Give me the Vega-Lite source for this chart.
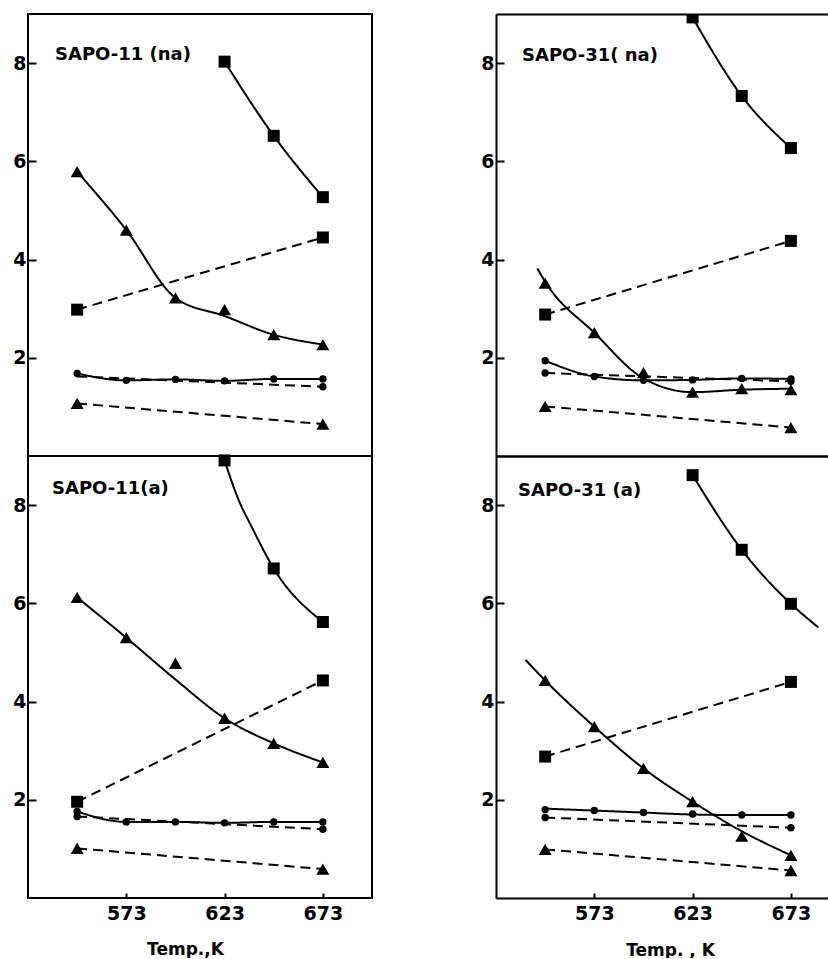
{
  "$schema": "https://vega.github.io/schema/vega-lite/v6.json",
  "padding": {"left": 11, "top": 13, "right": 0, "bottom": 0},
  "background": "white",
  "data": {"values": [
    {"p": "A", "s": "sqS", "mk": "sq", "ls": "solid", "T": 623, "v": 8.03, "f": 8.03},
    {"p": "A", "s": "sqS", "mk": "sq", "ls": "solid", "T": 648, "v": 6.52, "f": 6.52},
    {"p": "A", "s": "sqS", "mk": "sq", "ls": "solid", "T": 673, "v": 5.27, "f": 5.27},
    {"p": "A", "s": "sqD", "mk": "sq", "ls": "dashed", "T": 548, "v": 2.98, "f": 2.98},
    {"p": "A", "s": "sqD", "mk": "sq", "ls": "dashed", "T": 673, "v": 4.45, "f": 4.45},
    {"p": "A", "s": "trS", "mk": "tr", "ls": "solid", "T": 548, "v": 5.79, "f": 5.79},
    {"p": "A", "s": "trS", "mk": "tr", "ls": "solid", "T": 573, "v": 4.6, "f": 4.6},
    {"p": "A", "s": "trS", "mk": "tr", "ls": "solid", "T": 598, "v": 3.22, "f": 3.22},
    {"p": "A", "s": "trS", "mk": "tr", "ls": "solid", "T": 623, "v": 2.98, "f": 2.85},
    {"p": "A", "s": "trS", "mk": "tr", "ls": "solid", "T": 648, "v": 2.47, "f": 2.47},
    {"p": "A", "s": "trS", "mk": "tr", "ls": "solid", "T": 673, "v": 2.27, "f": 2.27},
    {"p": "A", "s": "ciS", "mk": "ci", "ls": "solid", "T": 548, "v": 1.68, "f": 1.68},
    {"p": "A", "s": "ciS", "mk": "ci", "ls": "solid", "T": 573, "v": 1.54, "f": 1.54},
    {"p": "A", "s": "ciS", "mk": "ci", "ls": "solid", "T": 598, "v": 1.56, "f": 1.56},
    {"p": "A", "s": "ciS", "mk": "ci", "ls": "solid", "T": 623, "v": 1.53, "f": 1.53},
    {"p": "A", "s": "ciS", "mk": "ci", "ls": "solid", "T": 648, "v": 1.57, "f": 1.57},
    {"p": "A", "s": "ciS", "mk": "ci", "ls": "solid", "T": 673, "v": 1.57, "f": 1.57},
    {"p": "A", "s": "ciD", "mk": "ci", "ls": "dashed", "T": 548, "v": null, "f": 1.62},
    {"p": "A", "s": "ciD", "mk": "ci", "ls": "dashed", "T": 673, "v": 1.41, "f": 1.41},
    {"p": "A", "s": "trD", "mk": "tr", "ls": "dashed", "T": 548, "v": 1.07, "f": 1.07},
    {"p": "A", "s": "trD", "mk": "tr", "ls": "dashed", "T": 673, "v": 0.65, "f": 0.65},

    {"p": "B", "s": "sqS", "mk": "sq", "ls": "solid", "T": 623, "v": 8.93, "f": 8.93},
    {"p": "B", "s": "sqS", "mk": "sq", "ls": "solid", "T": 648, "v": 7.33, "f": 7.33},
    {"p": "B", "s": "sqS", "mk": "sq", "ls": "solid", "T": 673, "v": 6.27, "f": 6.27},
    {"p": "B", "s": "sqD", "mk": "sq", "ls": "dashed", "T": 548, "v": 2.88, "f": 2.88},
    {"p": "B", "s": "sqD", "mk": "sq", "ls": "dashed", "T": 673, "v": 4.38, "f": 4.38},
    {"p": "B", "s": "trS", "mk": "tr", "ls": "solid", "T": 544, "v": null, "f": 3.82},
    {"p": "B", "s": "trS", "mk": "tr", "ls": "solid", "T": 548, "v": 3.52, "f": 3.55},
    {"p": "B", "s": "trS", "mk": "tr", "ls": "solid", "T": 573, "v": 2.51, "f": 2.51},
    {"p": "B", "s": "trS", "mk": "tr", "ls": "solid", "T": 598, "v": 1.7, "f": 1.58},
    {"p": "B", "s": "trS", "mk": "tr", "ls": "solid", "T": 623, "v": 1.3, "f": 1.3},
    {"p": "B", "s": "trS", "mk": "tr", "ls": "solid", "T": 648, "v": 1.37, "f": 1.35},
    {"p": "B", "s": "trS", "mk": "tr", "ls": "solid", "T": 673, "v": 1.35, "f": 1.37},
    {"p": "B", "s": "ciS", "mk": "ci", "ls": "solid", "T": 548, "v": 1.94, "f": 1.94},
    {"p": "B", "s": "ciS", "mk": "ci", "ls": "solid", "T": 573, "v": 1.62, "f": 1.62},
    {"p": "B", "s": "ciS", "mk": "ci", "ls": "solid", "T": 598, "v": 1.54, "f": 1.54},
    {"p": "B", "s": "ciS", "mk": "ci", "ls": "solid", "T": 623, "v": 1.55, "f": 1.55},
    {"p": "B", "s": "ciS", "mk": "ci", "ls": "solid", "T": 648, "v": 1.58, "f": 1.58},
    {"p": "B", "s": "ciS", "mk": "ci", "ls": "solid", "T": 673, "v": 1.57, "f": 1.57},
    {"p": "B", "s": "ciD", "mk": "ci", "ls": "dashed", "T": 548, "v": 1.69, "f": 1.69},
    {"p": "B", "s": "ciD", "mk": "ci", "ls": "dashed", "T": 673, "v": 1.52, "f": 1.52},
    {"p": "B", "s": "trD", "mk": "tr", "ls": "dashed", "T": 548, "v": 1.01, "f": 1.01},
    {"p": "B", "s": "trD", "mk": "tr", "ls": "dashed", "T": 673, "v": 0.58, "f": 0.58},

    {"p": "C", "s": "sqS", "mk": "sq", "ls": "solid", "T": 623, "v": 8.91, "f": 8.91},
    {"p": "C", "s": "sqS", "mk": "sq", "ls": "solid", "T": 630, "v": null, "f": 8.12},
    {"p": "C", "s": "sqS", "mk": "sq", "ls": "solid", "T": 637, "v": null, "f": 7.54},
    {"p": "C", "s": "sqS", "mk": "sq", "ls": "solid", "T": 648, "v": 6.71, "f": 6.71},
    {"p": "C", "s": "sqS", "mk": "sq", "ls": "solid", "T": 673, "v": 5.62, "f": 5.62},
    {"p": "C", "s": "sqD", "mk": "sq", "ls": "dashed", "T": 548, "v": 1.96, "f": 1.96},
    {"p": "C", "s": "sqD", "mk": "sq", "ls": "dashed", "T": 673, "v": 4.43, "f": 4.43},
    {"p": "C", "s": "trS", "mk": "tr", "ls": "solid", "T": 548, "v": 6.12, "f": 6.12},
    {"p": "C", "s": "trS", "mk": "tr", "ls": "solid", "T": 573, "v": 5.3, "f": 5.3},
    {"p": "C", "s": "trS", "mk": "tr", "ls": "solid", "T": 598, "v": 4.78, "f": 4.45},
    {"p": "C", "s": "trS", "mk": "tr", "ls": "solid", "T": 623, "v": 3.66, "f": 3.66},
    {"p": "C", "s": "trS", "mk": "tr", "ls": "solid", "T": 648, "v": 3.15, "f": 3.15},
    {"p": "C", "s": "trS", "mk": "tr", "ls": "solid", "T": 673, "v": 2.76, "f": 2.76},
    {"p": "C", "s": "ciS", "mk": "ci", "ls": "solid", "T": 548, "v": 1.76, "f": 1.76},
    {"p": "C", "s": "ciS", "mk": "ci", "ls": "solid", "T": 573, "v": 1.55, "f": 1.55},
    {"p": "C", "s": "ciS", "mk": "ci", "ls": "solid", "T": 598, "v": 1.55, "f": 1.55},
    {"p": "C", "s": "ciS", "mk": "ci", "ls": "solid", "T": 623, "v": 1.53, "f": 1.53},
    {"p": "C", "s": "ciS", "mk": "ci", "ls": "solid", "T": 648, "v": 1.55, "f": 1.55},
    {"p": "C", "s": "ciS", "mk": "ci", "ls": "solid", "T": 673, "v": 1.55, "f": 1.55},
    {"p": "C", "s": "ciD", "mk": "ci", "ls": "dashed", "T": 548, "v": 1.66, "f": 1.66},
    {"p": "C", "s": "ciD", "mk": "ci", "ls": "dashed", "T": 673, "v": 1.4, "f": 1.4},
    {"p": "C", "s": "trD", "mk": "tr", "ls": "dashed", "T": 548, "v": 1.01, "f": 1.01},
    {"p": "C", "s": "trD", "mk": "tr", "ls": "dashed", "T": 673, "v": 0.59, "f": 0.59},

    {"p": "D", "s": "sqS", "mk": "sq", "ls": "solid", "T": 623, "v": 8.61, "f": 8.61},
    {"p": "D", "s": "sqS", "mk": "sq", "ls": "solid", "T": 648, "v": 7.09, "f": 7.09},
    {"p": "D", "s": "sqS", "mk": "sq", "ls": "solid", "T": 673, "v": 5.99, "f": 5.99},
    {"p": "D", "s": "sqS", "mk": "sq", "ls": "solid", "T": 687, "v": null, "f": 5.51},
    {"p": "D", "s": "sqD", "mk": "sq", "ls": "dashed", "T": 548, "v": 2.88, "f": 2.88},
    {"p": "D", "s": "sqD", "mk": "sq", "ls": "dashed", "T": 673, "v": 4.4, "f": 4.4},
    {"p": "D", "s": "trS", "mk": "tr", "ls": "solid", "T": 538, "v": null, "f": 4.85},
    {"p": "D", "s": "trS", "mk": "tr", "ls": "solid", "T": 548, "v": 4.43, "f": 4.43},
    {"p": "D", "s": "trS", "mk": "tr", "ls": "solid", "T": 573, "v": 3.49, "f": 3.49},
    {"p": "D", "s": "trS", "mk": "tr", "ls": "solid", "T": 598, "v": 2.64, "f": 2.64},
    {"p": "D", "s": "trS", "mk": "tr", "ls": "solid", "T": 623, "v": 1.96, "f": 1.96},
    {"p": "D", "s": "trS", "mk": "tr", "ls": "solid", "T": 648, "v": 1.26, "f": 1.36},
    {"p": "D", "s": "trS", "mk": "tr", "ls": "solid", "T": 673, "v": 0.87, "f": 0.87},
    {"p": "D", "s": "ciS", "mk": "ci", "ls": "solid", "T": 548, "v": 1.8, "f": 1.82},
    {"p": "D", "s": "ciS", "mk": "ci", "ls": "solid", "T": 573, "v": 1.78, "f": 1.78},
    {"p": "D", "s": "ciS", "mk": "ci", "ls": "solid", "T": 598, "v": 1.74, "f": 1.74},
    {"p": "D", "s": "ciS", "mk": "ci", "ls": "solid", "T": 623, "v": 1.71, "f": 1.7},
    {"p": "D", "s": "ciS", "mk": "ci", "ls": "solid", "T": 648, "v": 1.69, "f": 1.69},
    {"p": "D", "s": "ciS", "mk": "ci", "ls": "solid", "T": 673, "v": 1.69, "f": 1.69},
    {"p": "D", "s": "ciD", "mk": "ci", "ls": "dashed", "T": 548, "v": 1.64, "f": 1.64},
    {"p": "D", "s": "ciD", "mk": "ci", "ls": "dashed", "T": 673, "v": 1.43, "f": 1.43},
    {"p": "D", "s": "trD", "mk": "tr", "ls": "dashed", "T": 548, "v": 0.99, "f": 0.99},
    {"p": "D", "s": "trD", "mk": "tr", "ls": "dashed", "T": 673, "v": 0.56, "f": 0.56}
  ]},
  "spacing": 107,
  "hconcat": [
    {
      "spacing": 0,
      "bounds": "flush",
      "vconcat": [
        {
          "width": 344, "height": 442,
          "title": {"text": "SAPO-11 (na)", "dx": 27, "dy": 50, "offset": 0, "baseline": "top"},
          "transform": [{"filter": "datum.p === 'A'"}],
          "layer": [
            {
              "transform": [{"filter": "isValid(datum.f)"}],
              "mark": {"type": "line", "interpolate": "monotone", "strokeWidth": 2, "color": "black", "clip": true},
              "encoding": {
                "x": {"field": "T", "type": "quantitative", "scale": {"domain": [523, 698], "nice": false, "zero": false}, "axis": null},
                "y": {"field": "f", "type": "quantitative", "scale": {"domain": [0, 9], "nice": false, "zero": false},
                      "axis": {"values": [2, 4, 6, 8], "tickSize": -8, "labelPadding": 10, "labelFontSize": 19, "title": null, "domain": false}},
                "detail": {"field": "s"},
                "strokeDash": {"field": "ls", "type": "nominal", "scale": {"domain": ["solid", "dashed"], "range": [[1, 0], [10, 6]]}, "legend": null}
              }
            },
            {
              "transform": [{"filter": "isValid(datum.v)"}],
              "mark": {"type": "point", "filled": true, "opacity": 1, "color": "black", "clip": true},
              "encoding": {
                "x": {"field": "T", "type": "quantitative", "axis": null},
                "y": {"field": "v", "type": "quantitative",
                      "axis": {"values": [2, 4, 6, 8], "tickSize": -8, "labelPadding": 10, "labelFontSize": 19, "title": null, "domain": false}},
                "shape": {"field": "mk", "type": "nominal", "scale": {"domain": ["sq", "tr", "ci"], "range": ["square", "triangle-up", "circle"]}, "legend": null},
                "size": {"field": "mk", "type": "nominal", "scale": {"type": "ordinal", "domain": ["sq", "tr", "ci"], "range": [144, 169, 55]}, "legend": null}
              }
            }
          ]
        },
        {
          "width": 344, "height": 442,
          "title": {"text": "SAPO-11(a)", "dx": 24, "dy": 44, "offset": 0, "baseline": "top"},
          "transform": [{"filter": "datum.p === 'C'"}],
          "layer": [
            {
              "transform": [{"filter": "isValid(datum.f)"}],
              "mark": {"type": "line", "interpolate": "monotone", "strokeWidth": 2, "color": "black", "clip": true},
              "encoding": {
                "x": {"field": "T", "type": "quantitative", "scale": {"domain": [523, 698], "nice": false, "zero": false},
                      "axis": {"values": [573, 623, 673], "tickSize": -5, "labelPadding": 11, "labelFontSize": 19, "domain": false,
                               "title": "Temp.,K", "titleFontSize": 17, "titleX": 157, "titleY": 56, "titleBaseline": "alphabetic"}},
                "y": {"field": "f", "type": "quantitative", "scale": {"domain": [0, 9], "nice": false, "zero": false},
                      "axis": {"values": [2, 4, 6, 8], "tickSize": -8, "labelPadding": 10, "labelFontSize": 19, "title": null, "domain": false}},
                "detail": {"field": "s"},
                "strokeDash": {"field": "ls", "type": "nominal", "scale": {"domain": ["solid", "dashed"], "range": [[1, 0], [10, 6]]}, "legend": null}
              }
            },
            {
              "transform": [{"filter": "isValid(datum.v)"}],
              "mark": {"type": "point", "filled": true, "opacity": 1, "color": "black"},
              "encoding": {
                "x": {"field": "T", "type": "quantitative",
                      "axis": {"values": [573, 623, 673], "tickSize": -5, "labelPadding": 11, "labelFontSize": 19, "domain": false,
                               "title": "Temp.,K", "titleFontSize": 17, "titleX": 157, "titleY": 56, "titleBaseline": "alphabetic"}},
                "y": {"field": "v", "type": "quantitative",
                      "axis": {"values": [2, 4, 6, 8], "tickSize": -8, "labelPadding": 10, "labelFontSize": 19, "title": null, "domain": false}},
                "shape": {"field": "mk", "type": "nominal", "scale": {"domain": ["sq", "tr", "ci"], "range": ["square", "triangle-up", "circle"]}, "legend": null},
                "size": {"field": "mk", "type": "nominal", "scale": {"type": "ordinal", "domain": ["sq", "tr", "ci"], "range": [144, 169, 55]}, "legend": null}
              }
            }
          ]
        }
      ]
    },
    {
      "spacing": 0,
      "bounds": "flush",
      "vconcat": [
        {
          "width": 335, "height": 442,
          "view": {"stroke": null},
          "title": {"text": "SAPO-31( na)", "dx": 26, "dy": 51, "offset": 0, "baseline": "top"},
          "transform": [{"filter": "datum.p === 'B'"}],
          "resolve": {"axis": {"x": "independent"}},
          "layer": [
            {
              "transform": [{"filter": "isValid(datum.f)"}],
              "mark": {"type": "line", "interpolate": "monotone", "strokeWidth": 2, "color": "black", "clip": true},
              "encoding": {
                "x": {"field": "T", "type": "quantitative", "scale": {"domain": [523, 693.4], "nice": false, "zero": false},
                      "axis": {"orient": "bottom", "labels": false, "ticks": false, "domain": true, "title": null}},
                "y": {"field": "f", "type": "quantitative", "scale": {"domain": [0, 9], "nice": false, "zero": false},
                      "axis": {"values": [2, 4, 6, 8], "tickSize": -8, "labelPadding": 10, "labelFontSize": 19, "title": null, "domain": true}},
                "detail": {"field": "s"},
                "strokeDash": {"field": "ls", "type": "nominal", "scale": {"domain": ["solid", "dashed"], "range": [[1, 0], [10, 6]]}, "legend": null}
              }
            },
            {
              "transform": [{"filter": "isValid(datum.v)"}],
              "mark": {"type": "point", "filled": true, "opacity": 1, "color": "black", "clip": true},
              "encoding": {
                "x": {"field": "T", "type": "quantitative",
                      "axis": {"orient": "top", "labels": false, "ticks": false, "domain": true, "title": null}},
                "y": {"field": "v", "type": "quantitative",
                      "axis": {"values": [2, 4, 6, 8], "tickSize": -8, "labelPadding": 10, "labelFontSize": 19, "title": null, "domain": true}},
                "shape": {"field": "mk", "type": "nominal", "scale": {"domain": ["sq", "tr", "ci"], "range": ["square", "triangle-up", "circle"]}, "legend": null},
                "size": {"field": "mk", "type": "nominal", "scale": {"type": "ordinal", "domain": ["sq", "tr", "ci"], "range": [144, 169, 55]}, "legend": null}
              }
            }
          ]
        },
        {
          "width": 335, "height": 442,
          "view": {"stroke": null},
          "title": {"text": "SAPO-31 (a)", "dx": 22, "dy": 44, "offset": 0, "baseline": "top"},
          "transform": [{"filter": "datum.p === 'D'"}],
          "resolve": {"axis": {"x": "independent"}},
          "layer": [
            {
              "transform": [{"filter": "isValid(datum.f)"}],
              "mark": {"type": "line", "interpolate": "monotone", "strokeWidth": 2, "color": "black", "clip": true},
              "encoding": {
                "x": {"field": "T", "type": "quantitative", "scale": {"domain": [523, 693.4], "nice": false, "zero": false},
                      "axis": {"orient": "bottom", "values": [573, 623, 673], "tickSize": -5, "labelPadding": 11, "labelFontSize": 19, "domain": true,
                               "title": "Temp. , K", "titleFontSize": 17, "titleX": 174, "titleY": 57, "titleBaseline": "alphabetic"}},
                "y": {"field": "f", "type": "quantitative", "scale": {"domain": [0, 9], "nice": false, "zero": false},
                      "axis": {"values": [2, 4, 6, 8], "tickSize": -8, "labelPadding": 10, "labelFontSize": 19, "title": null, "domain": true}},
                "detail": {"field": "s"},
                "strokeDash": {"field": "ls", "type": "nominal", "scale": {"domain": ["solid", "dashed"], "range": [[1, 0], [10, 6]]}, "legend": null}
              }
            },
            {
              "transform": [{"filter": "isValid(datum.v)"}],
              "mark": {"type": "point", "filled": true, "opacity": 1, "color": "black"},
              "encoding": {
                "x": {"field": "T", "type": "quantitative",
                      "axis": {"orient": "top", "labels": false, "ticks": false, "domain": true, "title": null}},
                "y": {"field": "v", "type": "quantitative",
                      "axis": {"values": [2, 4, 6, 8], "tickSize": -8, "labelPadding": 10, "labelFontSize": 19, "title": null, "domain": true}},
                "shape": {"field": "mk", "type": "nominal", "scale": {"domain": ["sq", "tr", "ci"], "range": ["square", "triangle-up", "circle"]}, "legend": null},
                "size": {"field": "mk", "type": "nominal", "scale": {"type": "ordinal", "domain": ["sq", "tr", "ci"], "range": [144, 169, 55]}, "legend": null}
              }
            }
          ]
        }
      ]
    }
  ],
  "config": {
    "view": {"stroke": "black", "strokeWidth": 2},
    "axis": {"grid": false, "domainColor": "black", "domainWidth": 2, "tickColor": "black", "tickWidth": 2,
             "labelColor": "black", "labelFont": "DejaVu Sans", "labelFontWeight": "bold",
             "titleFont": "DejaVu Sans", "titleFontWeight": "bold", "titleColor": "black"},
    "title": {"font": "DejaVu Sans", "fontWeight": "bold", "fontSize": 18, "color": "black", "anchor": "start", "frame": "group"}
  }
}
